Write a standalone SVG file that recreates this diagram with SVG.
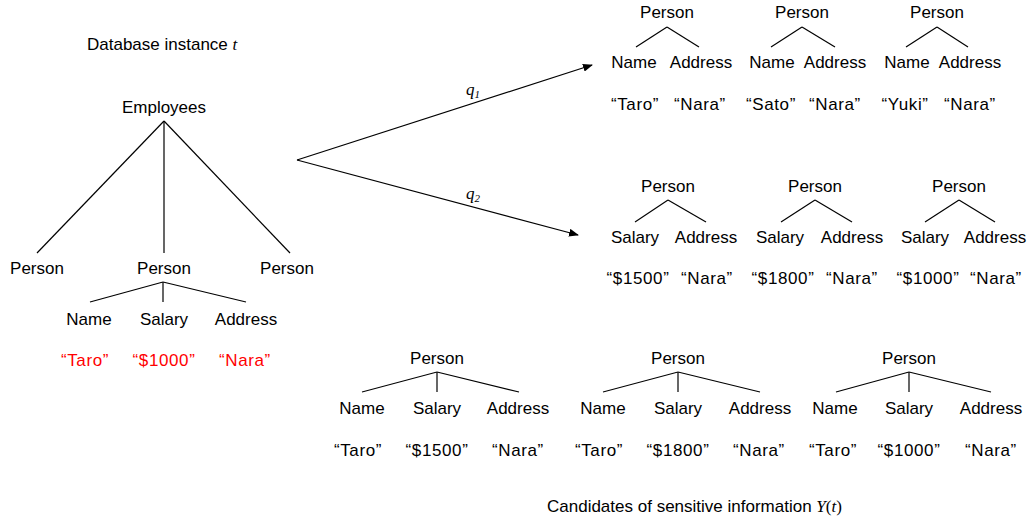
<svg xmlns="http://www.w3.org/2000/svg" width="1028" height="521" viewBox="0 0 1028 521">
<style>
text{font-family:"Liberation Sans",Arial,sans-serif;font-size:17px;fill:#000;text-anchor:middle}
.v{letter-spacing:0.6px}
.red{fill:#ff0000}
.it{font-family:"Liberation Serif","Times New Roman",serif;font-style:italic}
.l{text-anchor:start}
line{stroke:#000;stroke-width:1.2}
</style>
<defs>
<marker id="ah" markerWidth="10" markerHeight="8" refX="9" refY="4" orient="auto" markerUnits="userSpaceOnUse">
<path d="M0,0 L10,4 L0,8 Z" fill="#000"/>
</marker>
</defs>
<rect width="1028" height="521" fill="#fff"/>
<text class="l" x="87" y="50">Database instance <tspan class="it">t</tspan></text>
<g id="connectors">
<line x1="164" y1="121" x2="37" y2="253"/>
<line x1="164" y1="121" x2="164" y2="253"/>
<line x1="164" y1="121" x2="290" y2="253"/>
<line x1="163" y1="282" x2="90" y2="302"/>
<line x1="163" y1="282" x2="163" y2="302"/>
<line x1="163" y1="282" x2="246" y2="302"/>
<line x1="297" y1="160" x2="592" y2="65" marker-end="url(#ah)"/>
<line x1="297" y1="160" x2="578" y2="235" marker-end="url(#ah)"/>
<line x1="667" y1="27" x2="636" y2="47"/><line x1="667" y1="27" x2="699" y2="47"/>
<line x1="802" y1="27" x2="771" y2="47"/><line x1="802" y1="27" x2="835" y2="47"/>
<line x1="937" y1="27" x2="906" y2="47"/><line x1="937" y1="27" x2="968" y2="47"/>
<line x1="668" y1="200" x2="635" y2="222"/><line x1="668" y1="200" x2="706" y2="222"/>
<line x1="815" y1="200" x2="781" y2="222"/><line x1="815" y1="200" x2="852" y2="222"/>
<line x1="959" y1="200" x2="925" y2="222"/><line x1="959" y1="200" x2="995" y2="222"/>
<line x1="437" y1="372" x2="362" y2="392"/><line x1="437" y1="372" x2="437" y2="392"/><line x1="437" y1="372" x2="519" y2="392"/>
<line x1="678" y1="372" x2="603" y2="392"/><line x1="678" y1="372" x2="678" y2="392"/><line x1="678" y1="372" x2="760" y2="392"/>
<line x1="909" y1="372" x2="836" y2="392"/><line x1="909" y1="372" x2="909" y2="392"/><line x1="909" y1="372" x2="991" y2="392"/>
</g>
<g id="q-labels">
<text class="it" x="473" y="95" font-size="15">q<tspan font-size="11" dy="3">1</tspan></text>
<text class="it" x="473" y="199" font-size="15">q<tspan font-size="11" dy="3">2</tspan></text>
</g>
<g id="employees"><text x="164" y="113">Employees</text></g>
<g id="person-left"><text x="37" y="274">Person</text></g>
<g id="person-mid">
<text x="164" y="274">Person</text>
<text x="89" y="325">Name</text><text x="164" y="325">Salary</text><text x="246" y="325">Address</text>
<text class="red v" x="85" y="366">“Taro”</text><text class="red v" x="164" y="366">“$1000”</text><text class="red v" x="245" y="366">“Nara”</text>
</g>
<g id="person-right"><text x="287" y="274">Person</text></g>
<g id="q1-tree1">
<text x="667" y="18">Person</text>
<text x="634" y="68">Name</text><text x="701" y="68">Address</text>
<text class="v" x="635" y="110">“Taro”</text><text class="v" x="700" y="110">“Nara”</text>
</g>
<g id="q1-tree2">
<text x="802" y="18">Person</text>
<text x="772" y="68">Name</text><text x="835" y="68">Address</text>
<text class="v" x="771" y="110">“Sato”</text><text class="v" x="835" y="110">“Nara”</text>
</g>
<g id="q1-tree3">
<text x="937" y="18">Person</text>
<text x="907" y="68">Name</text><text x="970" y="68">Address</text>
<text class="v" x="905" y="110">“Yuki”</text><text class="v" x="970" y="110">“Nara”</text>
</g>
<g id="q2-tree1">
<text x="668" y="192">Person</text>
<text x="635" y="243">Salary</text><text x="706" y="243">Address</text>
<text class="v" x="638" y="284">“$1500”</text><text class="v" x="707" y="284">“Nara”</text>
</g>
<g id="q2-tree2">
<text x="815" y="192">Person</text>
<text x="780" y="243">Salary</text><text x="852" y="243">Address</text>
<text class="v" x="783" y="284">“$1800”</text><text class="v" x="852" y="284">“Nara”</text>
</g>
<g id="q2-tree3">
<text x="959" y="192">Person</text>
<text x="925" y="243">Salary</text><text x="995" y="243">Address</text>
<text class="v" x="928" y="284">“$1000”</text><text class="v" x="996" y="284">“Nara”</text>
</g>
<g id="cand-tree1">
<text x="437" y="364">Person</text>
<text x="362" y="414">Name</text><text x="437" y="414">Salary</text><text x="518" y="414">Address</text>
<text class="v" x="358" y="456">“Taro”</text><text class="v" x="437" y="456">“$1500”</text><text class="v" x="518" y="456">“Nara”</text>
</g>
<g id="cand-tree2">
<text x="678" y="364">Person</text>
<text x="603" y="414">Name</text><text x="678" y="414">Salary</text><text x="760" y="414">Address</text>
<text class="v" x="599" y="456">“Taro”</text><text class="v" x="678" y="456">“$1800”</text><text class="v" x="759" y="456">“Nara”</text>
</g>
<g id="cand-tree3">
<text x="909" y="364">Person</text>
<text x="835" y="414">Name</text><text x="909" y="414">Salary</text><text x="991" y="414">Address</text>
<text class="v" x="833" y="456">“Taro”</text><text class="v" x="909" y="456">“$1000”</text><text class="v" x="991" y="456">“Nara”</text>
</g>
<text class="l" x="547" y="512">Candidates of sensitive information <tspan class="it">Y</tspan><tspan font-family="Liberation Serif">(</tspan><tspan class="it">t</tspan><tspan font-family="Liberation Serif">)</tspan></text>
</svg>
